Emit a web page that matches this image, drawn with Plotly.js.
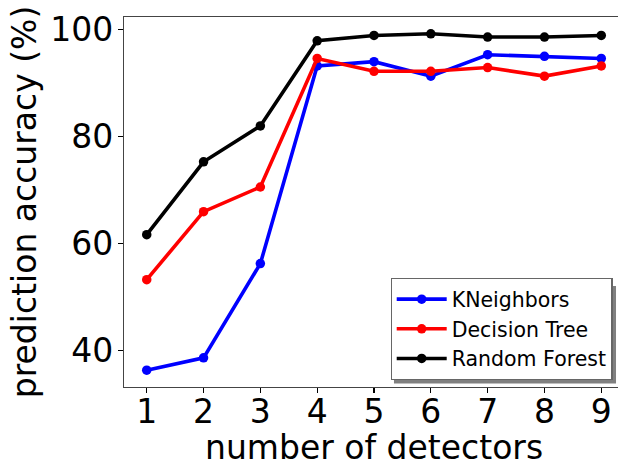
<!DOCTYPE html>
<html>
<head>
<meta charset="utf-8">
<script src="https://cdn.plot.ly/plotly-3.0.1.min.js"></script>
<style>
html,body{margin:0;padding:0;overflow:hidden;background:#fff;}
#chart{width:626px;height:464px;}
</style>
</head>
<body>
<div id="chart"></div>
<script>
const detectors = [1, 2, 3, 4, 5, 6, 7, 8, 9];
const kneighbors = [36.4, 38.7, 56.3, 93.2, 94.0, 91.3, 95.3, 95.0, 94.6];
const decisionTree = [53.3, 66.0, 70.6, 94.6, 92.2, 92.2, 92.9, 91.3, 93.2];
const randomForest = [61.7, 75.3, 82.0, 97.9, 98.9, 99.2, 98.6, 98.6, 98.9];
const seriesNames = ["KNeighbors", "Decision Tree", "Random Forest"];
const seriesColors = ["#0000ff", "#ff0000", "#000000"];
const xTicks = [1, 2, 3, 4, 5, 6, 7, 8, 9];
const yTicks = [40, 60, 80, 100];
const xTitle = "number of detectors";
const yTitle = "prediction accuracy (%)";

const font = "DejaVu Sans, sans-serif";
const allSeries = [kneighbors, decisionTree, randomForest];
const traces = allSeries.map((vals, i) => ({
  x: detectors, y: vals, name: seriesNames[i], type: "scatter", mode: "lines+markers",
  line: {color: seriesColors[i], width: 3.6},
  marker: {color: seriesColors[i], size: 9.5}
}));

const layout = {
  width: 626, height: 464,
  margin: {l: 123.5, r: 1.5, t: 17.3, b: 77},
  paper_bgcolor: "#fff", plot_bgcolor: "#fff",
  font: {family: font, color: "#000"},
  showlegend: true,
  legend: {
    x: 0.977, y: 0.0186, xanchor: "right", yanchor: "bottom",
    font: {family: font, size: 20.5, color: "#000"},
    bgcolor: "#fff", bordercolor: "#666", borderwidth: 1.2,
    tracegroupgap: 0, itemwidth: 50
  },
  shapes: [{
    type: "rect", xref: "paper", yref: "paper", layer: "above",
    x0: (394 - 123.5) / 501, x1: (616.5 - 123.5) / 501,
    y0: (387 - 383.5) / 369.7, y1: (387 - 286) / 369.7,
    fillcolor: "#808080", line: {width: 0}
  }],
  annotations: [{
    text: xTitle, xref: "paper", yref: "paper", x: 0.5, y: -(447 - 387) / 369.7,
    xanchor: "center", yanchor: "middle", showarrow: false,
    font: {family: font, size: 33, color: "#000"}
  }],
  xaxis: {
    range: [0.6, 9.4], tickvals: xTicks, ticktext: xTicks.map(String),
    showgrid: false, zeroline: false, showline: true, mirror: true,
    linecolor: "#444", linewidth: 1.2,
    ticks: "outside", ticklen: 5, tickwidth: 1.1, tickcolor: "#000",
    ticklabelstandoff: -10,
    tickfont: {family: font, size: 33, color: "#000"}
  },
  yaxis: {
    range: [33.26, 102.34], tickvals: yTicks, ticktext: yTicks.map(String),
    showgrid: false, zeroline: false, showline: true, mirror: true,
    linecolor: "#444", linewidth: 1.2,
    ticks: "outside", ticklen: 5, tickwidth: 1.1, tickcolor: "#000",
    ticklabelstandoff: -2,
    tickfont: {family: font, size: 33, color: "#000"},
    title: {text: yTitle, font: {family: font, size: 33, color: "#000"}, standoff: 3}
  }
};

Plotly.newPlot("chart", traces, layout, {displayModeBar: false, staticPlot: true});
</script>
</body>
</html>
